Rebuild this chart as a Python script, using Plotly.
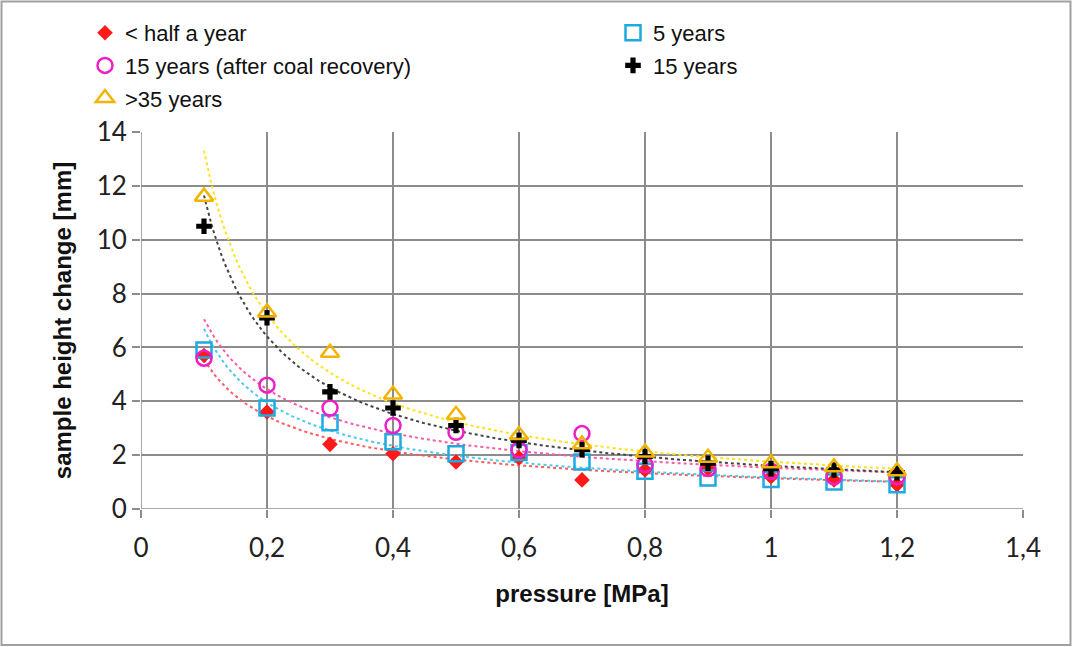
import numpy as np
import plotly.graph_objects as go

pressure = [0.1, 0.2, 0.3, 0.4, 0.5, 0.6, 0.7, 0.8, 0.9, 1.0, 1.1, 1.2]

half_year = [5.7, 3.6, 2.4, 2.05, 1.75, 1.9, 1.08, 1.45, 1.5, 1.2, 1.08, 0.9]
five_years = [5.9, 3.75, 3.2, 2.5, 2.05, 2.1, 1.75, 1.4, 1.15, 1.1, 1.0, 0.9]
fifteen_after = [5.6, 4.6, 3.75, 3.1, 2.85, 2.2, 2.8, 1.65, 1.5, 1.4, 1.2, 1.2]
fifteen_years = [10.5, 7.1, 4.35, 3.75, 3.1, 2.55, 2.2, 1.95, 1.7, 1.5, 1.45, 1.35]
over35 = [11.6, 7.3, 5.8, 4.25, 3.5, 2.75, 2.4, 2.1, 1.9, 1.7, 1.55, 1.4]

x_ticks = [0, 0.2, 0.4, 0.6, 0.8, 1.0, 1.2, 1.4]
y_ticks = [0, 2, 4, 6, 8, 10, 12, 14]

series = [
    # name, data, marker color, trend color, symbol, size, line width, legend
    ("< half a year", half_year, "#ff1a1a", "#ff5a5a", "diamond", 12, 0, "legend"),
    ("5 years", five_years, "#1ea9e1", "#4cc8f0", "square-open", 15, 2.5, "legend2"),
    ("15 years (after coal recovery)", fifteen_after, "#ee1fc6", "#ff5aa8", "circle-open", 15, 2.5, "legend"),
    ("15 years", fifteen_years, "#000000", "#444444", "cross", 13, 0, "legend2"),
    (">35 years", over35, "#f2b400", "#ffe31a", "triangle-up-open", 16, 2.5, "legend"),
]

fig = go.Figure()

xs = np.array(pressure)
xfit = np.linspace(0.1, 1.2, 200)
# power-law trendlines fitted to the data (like spreadsheet power trendlines)
for name, data, mcol, tcol, sym, size, lw, lg in series:
    b, lna = np.polyfit(np.log(xs), np.log(np.array(data)), 1)
    fig.add_trace(go.Scatter(
        x=xfit, y=np.exp(lna) * xfit ** b, mode="lines",
        line=dict(color=tcol, width=2, dash="dot"),
        showlegend=False, hoverinfo="skip"))

for i, (name, data, mcol, tcol, sym, size, lw, lg) in enumerate(series):
    marker = dict(symbol=sym, size=size, color=mcol,
                  line=dict(color=mcol, width=lw))
    fig.add_trace(go.Scatter(
        x=pressure, y=data, mode="markers", name=name, marker=marker,
        legend=lg, legendgroup=f"g{i}"))

tick_font = dict(family="Lato, Open Sans, sans-serif", size=26, color="#222222")
title_font = dict(family="Liberation Sans, Arial, sans-serif", size=24, color="#111111")
legend_font = dict(family="Liberation Sans, Arial, sans-serif", size=22, color="#111111")
grid_col = "#8c8c8c"

fig.update_layout(
    width=1073, height=647,
    margin=dict(l=141, r=50, t=132, b=138),
    paper_bgcolor="white", plot_bgcolor="white",
    separators=",.",
    xaxis=dict(
        range=[0, 1.4], tickvals=x_ticks, showgrid=True, gridcolor=grid_col, gridwidth=1.5,
        zeroline=False, showline=False, ticks="outside", ticklen=8, tickwidth=1.5,
        tickcolor=grid_col, tickfont=tick_font, ticklabelstandoff=8,
        title=dict(text="<b>pressure [MPa]</b>", font=title_font, standoff=22),
    ),
    yaxis=dict(
        range=[0, 14], tickvals=y_ticks, showgrid=True, gridcolor=grid_col, gridwidth=1.5,
        zeroline=False, showline=False, ticks="outside", ticklen=8, tickwidth=1.5,
        tickcolor=grid_col, tickfont=tick_font,
        title=dict(text="<b>sample height change [mm]</b>", font=title_font, standoff=18),
    ),
    legend=dict(
        x=(85 - 141) / 882, xanchor="left", y=(509 - 12) / 377, yanchor="top",
        font=legend_font, traceorder="grouped", tracegroupgap=1,
        bgcolor="rgba(0,0,0,0)",
    ),
    legend2=dict(
        x=(613 - 141) / 882, xanchor="left", y=(509 - 12) / 377, yanchor="top",
        font=legend_font, traceorder="grouped", tracegroupgap=1,
        bgcolor="rgba(0,0,0,0)",
    ),
    showlegend=True,
)

# axis lines at x=0 and y=0
fig.add_shape(type="line", xref="x", yref="paper", x0=0, x1=0, y0=0, y1=1,
              line=dict(color=grid_col, width=1.5))
fig.add_shape(type="line", xref="paper", yref="y", x0=0, x1=1, y0=0, y1=0,
              line=dict(color=grid_col, width=1.5))

# outer picture border
fig.add_shape(type="rect", xref="paper", yref="paper",
              x0=(1.5 - 141) / 882, x1=(1070.5 - 141) / 882,
              y0=(509 - 645) / 377, y1=(509 - 1.5) / 377,
              line=dict(color="#a0a0a0", width=2), layer="below")

fig.write_html("out.html")
